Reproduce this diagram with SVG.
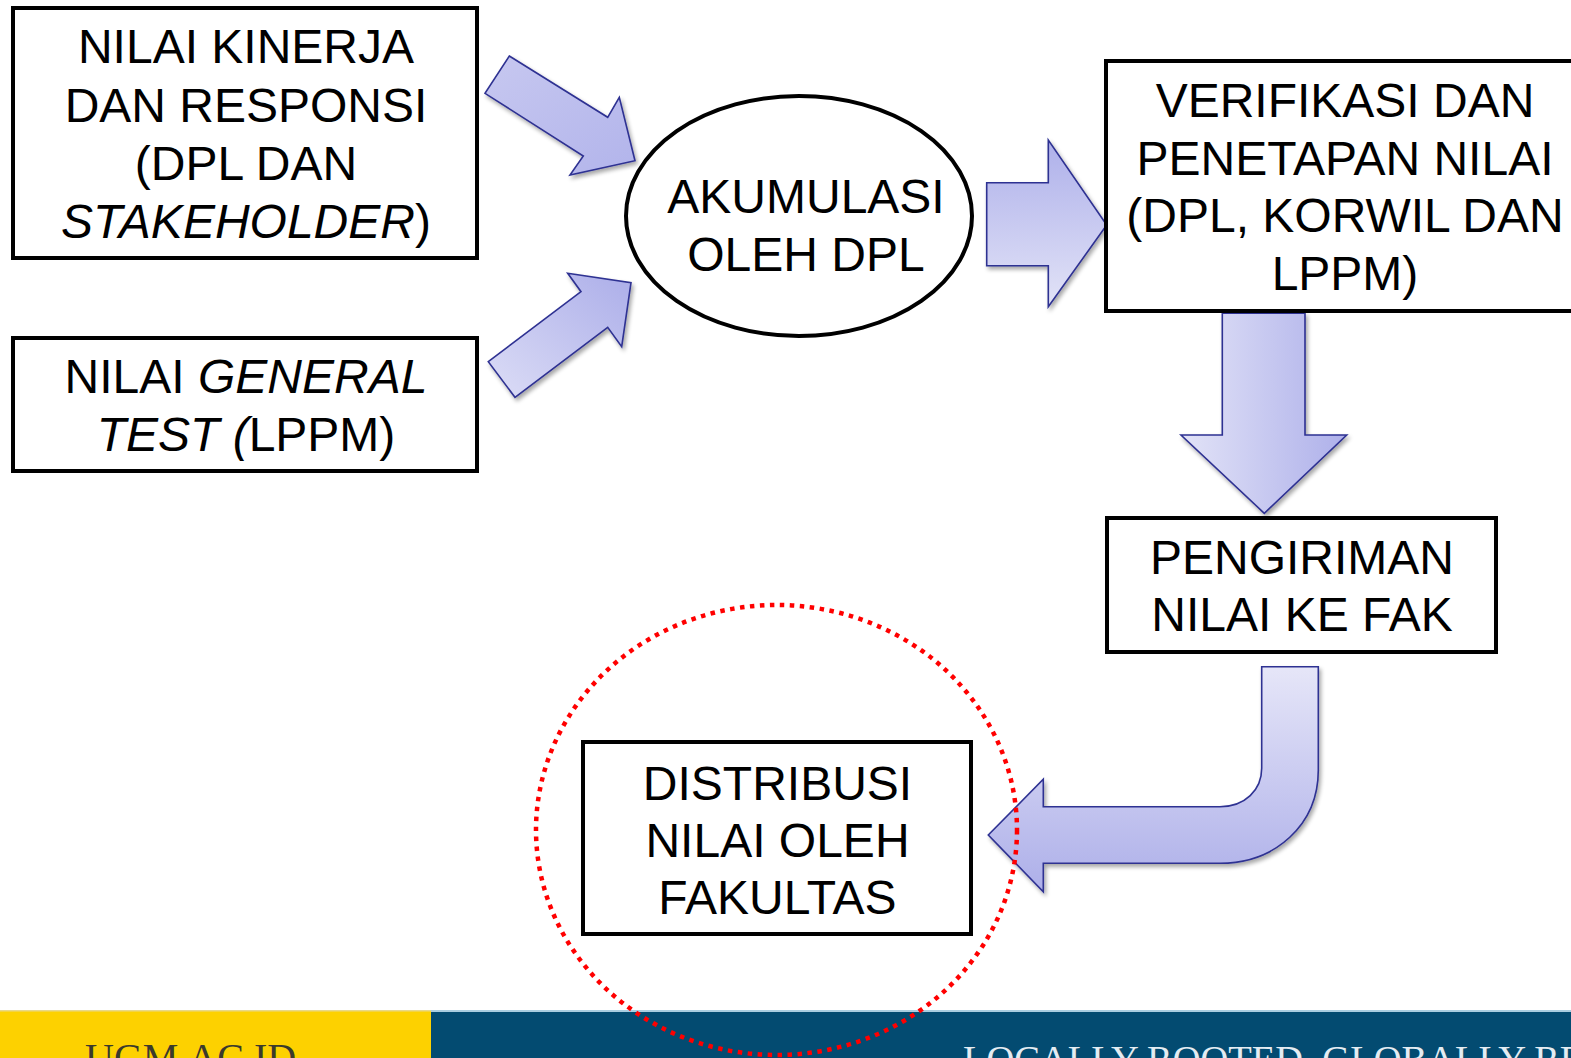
<svg xmlns="http://www.w3.org/2000/svg" width="1571" height="1058" viewBox="0 0 1571 1058">
<style>
.box{fill:#fff;stroke:#000;stroke-width:4}
.lbl{font-family:"Liberation Sans",Arial,sans-serif;font-size:48px;fill:#000;text-anchor:middle}
.it{font-style:italic}
.arrow{stroke:#2e3192;stroke-width:1.6;stroke-linejoin:miter;filter:url(#sh)}
</style>
<defs>
<linearGradient id="gv" x1="0" y1="0" x2="0" y2="1">
<stop offset="0" stop-color="#aeb0ea"/><stop offset="1" stop-color="#e2e3f7"/>
</linearGradient>
<linearGradient id="gd1" x1="0" y1="0" x2="1" y2="1">
<stop offset="0" stop-color="#c7c8f0"/><stop offset="1" stop-color="#b2b4eb"/>
</linearGradient>
<linearGradient id="gd2" x1="0" y1="1" x2="1" y2="0">
<stop offset="0" stop-color="#dcddf6"/><stop offset="1" stop-color="#acaee9"/>
</linearGradient>
<linearGradient id="gh" x1="0" y1="0" x2="1" y2="0">
<stop offset="0" stop-color="#e2e3f7"/><stop offset="1" stop-color="#aeb0ea"/>
</linearGradient>
<linearGradient id="gu" x1="0" y1="0" x2="0" y2="1">
<stop offset="0" stop-color="#e6e6f8"/><stop offset="1" stop-color="#adafe9"/>
</linearGradient>
<filter id="sh" x="-20%" y="-20%" width="140%" height="140%">
<feGaussianBlur in="SourceAlpha" stdDeviation="2"/>
<feOffset dx="2" dy="3" result="b"/>
<feComponentTransfer><feFuncA type="linear" slope="0.35"/></feComponentTransfer>
<feMerge><feMergeNode/><feMergeNode in="SourceGraphic"/></feMerge>
</filter>
</defs>
<rect width="1571" height="1058" fill="#fff"/>

<g id="footer">
<rect x="0" y="1011" width="431" height="47" fill="#fdd100"/>
<rect x="431" y="1011" width="1140" height="47" fill="#034b71"/>
<rect x="431" y="1010" width="1140" height="2" fill="#a9cde0"/>
<rect x="0" y="1010" width="431" height="1.5" fill="#e8d88a"/>
<text x="85" y="1071" font-family="'Liberation Serif','Times New Roman',serif" font-size="40" fill="#3b3a2c">UGM.AC.ID</text>
<text x="963" y="1072" font-family="'Liberation Serif','Times New Roman',serif" font-size="38.5" fill="#e4ecf2">LOCALLY ROOTED, GLOBALLY RESPECTED</text>
</g>

<g id="connectors">
<polygon class="arrow" fill="url(#gd1)" points="509.3,56 607.7,117.3 619.3,97.3 635,160.7 570,175 583.3,156 485,93.3"/>
<polygon class="arrow" fill="url(#gd2)" points="488.3,361.7 581,291.7 567.7,273.3 631,282.7 621.7,346.7 607.7,327.3 515,397.3"/>
<polygon class="arrow" fill="url(#gv)" points="986.7,182.7 1048.3,182.7 1048.3,140 1106.7,225 1048.3,306.7 1048.3,265.7 986.7,265.7"/>
<polygon class="arrow" fill="url(#gh)" points="1222.3,313.3 1305,313.3 1305,435 1346.7,435 1264.3,513.3 1181,435 1222.3,435"/>
<path class="arrow" fill="url(#gu)" d="M1261.7,666.7 L1318.3,666.7 L1318.3,770 C1318.3,825 1275,863.3 1220,863.3 L1043.3,863.3 L1043.3,891.7 L988.3,835 L1043.3,779.3 L1043.3,806.7 L1220,806.7 C1245,806.7 1261.7,790 1261.7,768.3 Z"/>
</g>

<g id="node-kinerja">
<rect class="box" x="13" y="8" width="464" height="250"/>
<text class="lbl" x="246" y="63">NILAI KINERJA</text>
<text class="lbl" x="246" y="121.5">DAN RESPONSI</text>
<text class="lbl" x="246" y="179.5">(DPL DAN</text>
<text class="lbl" x="246" y="237.5"><tspan class="it">STAKEHOLDER</tspan>)</text>
</g>

<g id="node-general">
<rect class="box" x="13" y="338" width="464" height="133"/>
<text class="lbl" x="246" y="393">NILAI <tspan class="it">GENERAL</tspan></text>
<text class="lbl" x="246" y="450.5"><tspan class="it">TEST (</tspan>LPPM)</text>
</g>

<g id="node-akumulasi">
<ellipse cx="799" cy="216" rx="173" ry="120" fill="#fff" stroke="#000" stroke-width="4"/>
<text class="lbl" x="806" y="213">AKUMULASI</text>
<text class="lbl" x="806" y="271">OLEH DPL</text>
</g>

<g id="node-verifikasi">
<rect class="box" x="1106" y="61" width="480" height="250"/>
<text class="lbl" x="1345" y="117">VERIFIKASI DAN</text>
<text class="lbl" x="1345" y="174.5">PENETAPAN NILAI</text>
<text class="lbl" x="1345" y="232">(DPL, KORWIL DAN</text>
<text class="lbl" x="1345" y="289.5">LPPM)</text>
</g>

<g id="node-pengiriman">
<rect class="box" x="1107" y="518" width="389" height="134"/>
<text class="lbl" x="1302" y="574">PENGIRIMAN</text>
<text class="lbl" x="1302" y="631">NILAI KE FAK</text>
</g>

<g id="node-distribusi">
<rect class="box" x="583" y="742" width="388" height="192"/>
<text class="lbl" x="777.5" y="799.5">DISTRIBUSI</text>
<text class="lbl" x="777.5" y="856.5">NILAI OLEH</text>
<text class="lbl" x="777.5" y="913.5">FAKULTAS</text>
</g>

<g id="highlight">
<ellipse cx="776.5" cy="830" rx="240.5" ry="225" fill="none" stroke="#ff0000" stroke-width="4.5" stroke-dasharray="4.5 5.5"/>
</g>
</svg>
